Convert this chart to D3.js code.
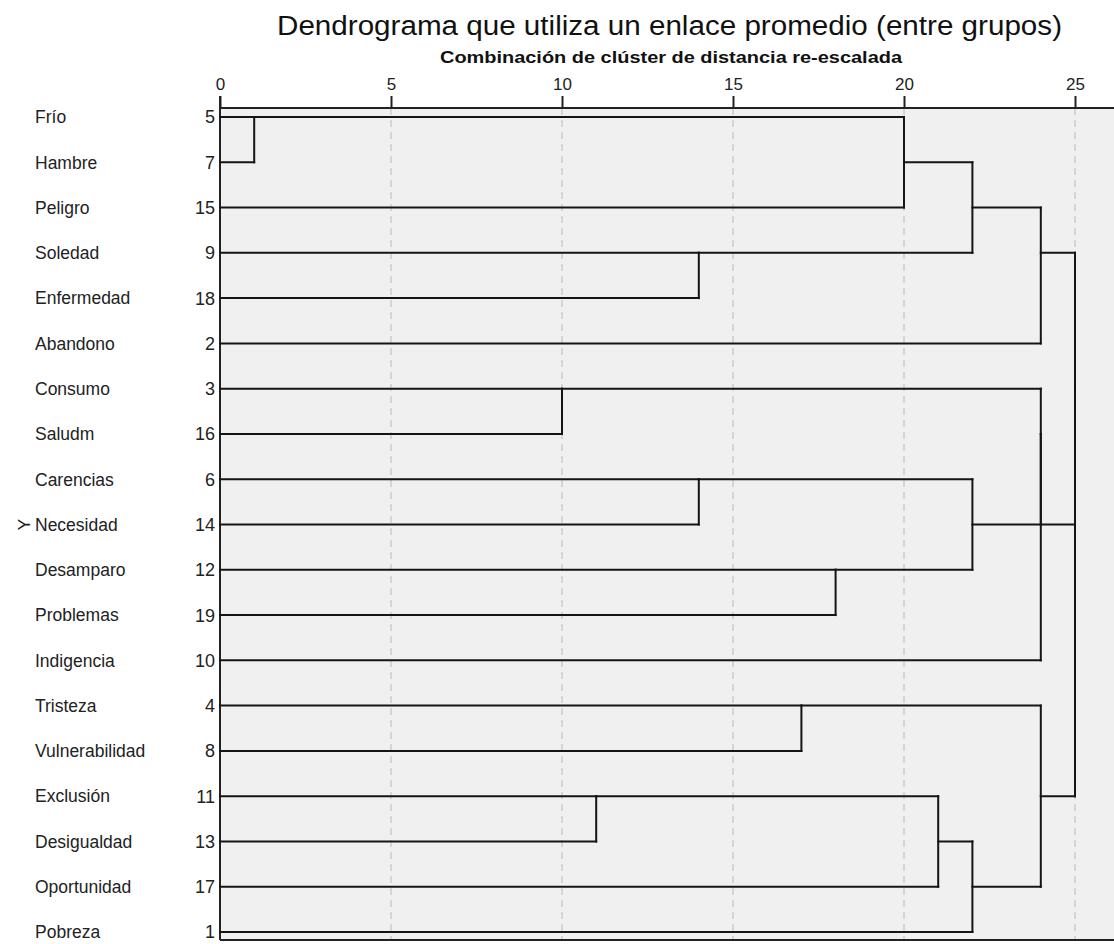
<!DOCTYPE html>
<html>
<head>
<meta charset="utf-8">
<script src="https://cdn.jsdelivr.net/npm/d3@7"></script>
<style>
  html, body { margin: 0; padding: 0; background: #fff; }
  svg { display: block; }
  text { font-family: "Liberation Sans", Arial, sans-serif; }
</style>
</head>
<body>
<svg id="chart" width="1114" height="944"></svg>
<script>
// ---- data ----
const leafLabels = ["Frío","Hambre","Peligro","Soledad","Enfermedad","Abandono","Consumo","Saludm",
  "Carencias","Necesidad","Desamparo","Problemas","Indigencia","Tristeza","Vulnerabilidad",
  "Exclusión","Desigualdad","Oportunidad","Pobreza"];
const caseNumbers = [5,7,15,9,18,2,3,16,6,14,12,19,10,4,8,11,13,17,1];
// agglomeration schedule: node ids 0..18 are leaves (rows), merge k gets id 19+k
const mergeLeft   = [0, 6, 15, 3, 8, 13, 10, 19, 21, 26, 23, 27, 28, 20, 32, 24, 31, 35];
const mergeRight  = [1, 7, 16, 4, 9, 14, 11, 2, 17, 22, 25, 18, 5, 29, 12, 30, 33, 34];
const mergeHeight = [1, 10, 11, 14, 14, 17, 18, 20, 21, 22, 22, 22, 24, 24, 24, 24, 25, 25];
const tickValues = [0, 5, 10, 15, 20, 25];
const titleText = "Dendrograma que utiliza un enlace promedio (entre grupos)";
const subtitleText = "Combinación de clúster de distancia re-escalada";
const yAxisTitle = "Y";

// ---- layout ----
const svg = d3.select("#chart");
const W = 1114;
const plotLeft = 220, plotTop = 108, plotBottom = 940;
const x = d3.scaleLinear().domain([0, 25]).range([220, 1075]);
const y = d3.scalePoint().domain(d3.range(leafLabels.length)).range([117, 932]);

// node positions
const nLeaf = leafLabels.length;
const nodeRow = d3.range(nLeaf).slice();
const nodeH = d3.range(nLeaf).map(() => 0);
mergeLeft.forEach((a, k) => {
  const b = mergeRight[k];
  nodeRow.push(Math.floor((nodeRow[a] + nodeRow[b]) / 2));
  nodeH.push(mergeHeight[k]);
});

// background
svg.append("rect")
  .attr("x", plotLeft).attr("y", plotTop)
  .attr("width", W - plotLeft).attr("height", plotBottom - plotTop)
  .attr("fill", "#f0f0f0");

// dashed grid
svg.append("g").selectAll("line")
  .data(tickValues.filter(d => d > 0))
  .join("line")
  .attr("x1", d => x(d)).attr("x2", d => x(d))
  .attr("y1", plotTop).attr("y2", plotBottom)
  .attr("stroke", "#c4c4c4").attr("stroke-width", 1.2)
  .attr("stroke-dasharray", "7,5");

// axis on top
const axis = d3.axisTop(x).tickValues(tickValues).tickSize(12).tickPadding(6).tickFormat(d3.format("d"));
const gAxis = svg.append("g").attr("transform", `translate(0,${plotTop})`).call(axis);
gAxis.select(".domain").remove();
gAxis.selectAll(".tick line").attr("stroke", "#222").attr("stroke-width", 2);
gAxis.selectAll(".tick text").attr("font-size", 17).attr("fill", "#222")
  .attr("font-family", "'Liberation Sans', Arial, sans-serif");

// frame lines
const frame = svg.append("g").attr("stroke", "#222").attr("stroke-width", 2);
frame.append("line").attr("x1", plotLeft).attr("x2", W).attr("y1", plotTop).attr("y2", plotTop);
frame.append("line").attr("x1", plotLeft).attr("x2", W).attr("y1", plotBottom).attr("y2", plotBottom);
frame.append("line").attr("x1", plotLeft).attr("x2", plotLeft).attr("y1", plotTop - 12).attr("y2", plotBottom);

// dendrogram segments
const segs = [];
mergeLeft.forEach((a, k) => {
  const b = mergeRight[k];
  const h = mergeHeight[k];
  segs.push({x1: nodeH[a], y1: nodeRow[a], x2: h, y2: nodeRow[a]});
  segs.push({x1: nodeH[b], y1: nodeRow[b], x2: h, y2: nodeRow[b]});
  segs.push({x1: h, y1: nodeRow[a], x2: h, y2: nodeRow[b]});
});
svg.append("g").selectAll("line")
  .data(segs)
  .join("line")
  .attr("x1", d => x(d.x1)).attr("x2", d => x(d.x2))
  .attr("y1", d => y(d.y1)).attr("y2", d => y(d.y2))
  .attr("stroke", "#151515").attr("stroke-width", 2)
  .attr("stroke-linecap", "square");

// leaf labels
svg.append("g").selectAll("text")
  .data(leafLabels)
  .join("text")
  .attr("x", 35).attr("y", (d, i) => y(i)).attr("dy", "0.36em")
  .attr("font-size", 17.5).attr("fill", "#222")
  .text(d => d);
svg.append("g").selectAll("text")
  .data(caseNumbers)
  .join("text")
  .attr("x", 215).attr("y", (d, i) => y(i)).attr("dy", "0.36em")
  .attr("text-anchor", "end")
  .attr("font-size", 18).attr("fill", "#222")
  .text(d => d);

// y axis title
svg.append("text")
  .attr("transform", `translate(24,${y(9)}) rotate(-90)`)
  .attr("text-anchor", "middle").attr("dy", "0.36em")
  .attr("font-size", 17).attr("fill", "#222")
  .text(yAxisTitle);

// titles
svg.append("text")
  .attr("x", 277).attr("y", 35)
  .attr("font-size", 27).attr("fill", "#111")
  .attr("textLength", 785).attr("lengthAdjust", "spacingAndGlyphs")
  .text(titleText);
svg.append("text")
  .attr("x", 440).attr("y", 63)
  .attr("font-size", 17).attr("font-weight", "bold").attr("fill", "#111")
  .attr("textLength", 462).attr("lengthAdjust", "spacingAndGlyphs")
  .text(subtitleText);
</script>
</body>
</html>
